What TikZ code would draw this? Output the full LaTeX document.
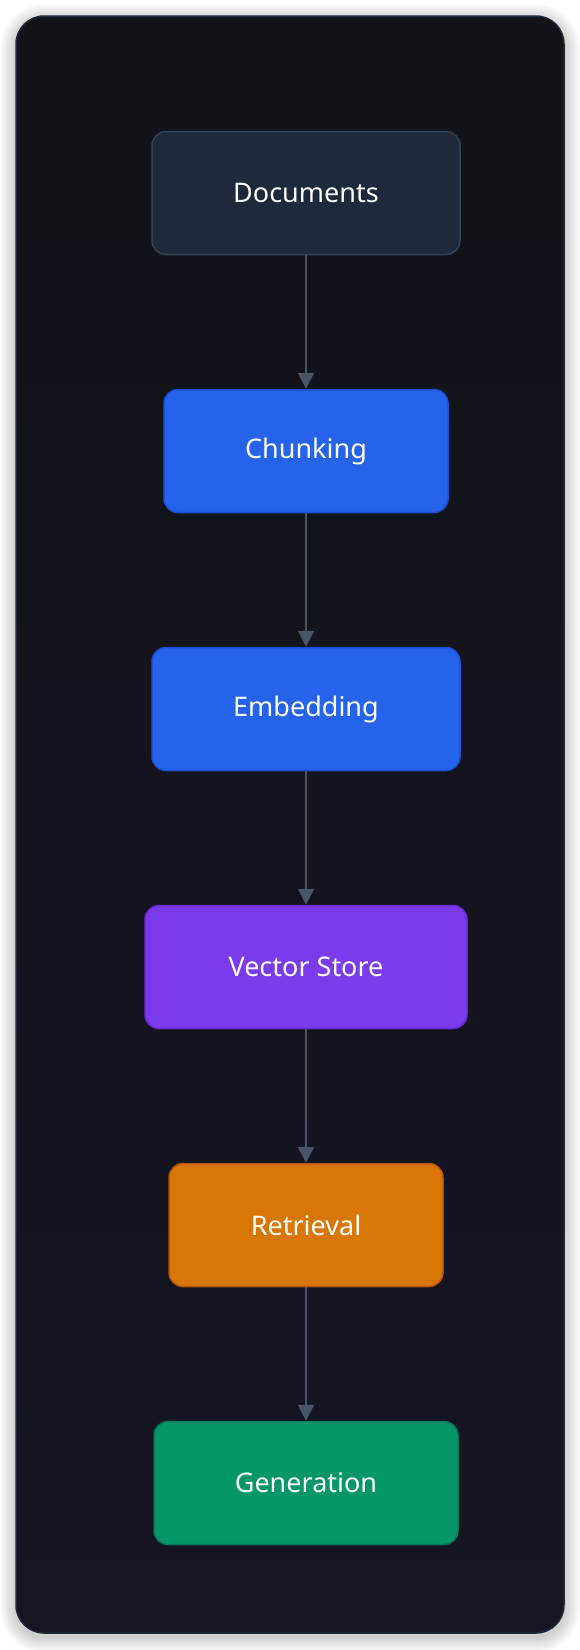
\documentclass[tikz,border=0pt]{standalone}
\usepackage{fontspec}
\setmainfont{Noto Sans}
\usetikzlibrary{arrows.meta,positioning}

\definecolor{cardtop}{HTML}{111318}
\definecolor{cardbot}{HTML}{151523}
\definecolor{cardline}{HTML}{1E293B}
\definecolor{docfill}{HTML}{1E293B}
\definecolor{docline}{HTML}{334155}
\definecolor{bluefill}{HTML}{2563EB}
\definecolor{blueline}{HTML}{1D4ED8}
\definecolor{purplefill}{HTML}{7C3AED}
\definecolor{purpleline}{HTML}{6D28D9}
\definecolor{orangefill}{HTML}{D97706}
\definecolor{orangeline}{HTML}{B45309}
\definecolor{greenfill}{HTML}{059669}
\definecolor{greenline}{HTML}{047857}
\definecolor{flowline}{HTML}{475569}

\tikzset{
  stagebox/.style={rounded corners=14pt, line width=1.5pt, minimum height=123pt,
    text=white, font=\fontsize{27}{31}\selectfont, node distance=133.5pt},
  flow/.style={draw=flowline, line width=1.8pt, -{Triangle[width=16pt,length=16pt]}}
}

\begin{document}
\begin{tikzpicture}[x=1pt, y=1pt]
  \useasboundingbox (0,0) rectangle (580,-1650);
  \fill[white] (0,0) rectangle (580,-1650);

  % soft shadow round the card
  \foreach \i in {1,...,16} {
    \fill[black, opacity=0.01, rounded corners=28+\i]
      (16-\i,-16+\i-4) rectangle (564+\i,-1633-\i-4);
  }

  % card
  \shade[top color=cardtop, bottom color=cardbot, rounded corners=28]
    (16,-16) rectangle (564,-1633);
  \draw[cardline, line width=1.5pt, rounded corners=28]
    (16,-16) rectangle (564,-1633);

  % pipeline stages
  \node[stagebox, fill=docfill, draw=docline, minimum width=308pt]
    (docs) at (306,-193) {Documents};
  \node[stagebox, fill=bluefill, draw=blueline, minimum width=284pt,
    below=of docs] (chunk) {Chunking};
  \node[stagebox, fill=bluefill, draw=blueline, minimum width=308pt,
    below=of chunk] (embed) {Embedding};
  \node[stagebox, fill=purplefill, draw=purpleline, minimum width=322pt,
    below=of embed] (store) {Vector Store};
  \node[stagebox, fill=orangefill, draw=orangeline, minimum width=274pt,
    below=of store] (retr) {Retrieval};
  \node[stagebox, fill=greenfill, draw=greenline, minimum width=304pt,
    below=of retr] (gen) {Generation};

  % connectors
  \draw[flow] (docs) -- (chunk);
  \draw[flow] (chunk) -- (embed);
  \draw[flow] (embed) -- (store);
  \draw[flow] (store) -- (retr);
  \draw[flow] (retr) -- (gen);
\end{tikzpicture}
\end{document}
